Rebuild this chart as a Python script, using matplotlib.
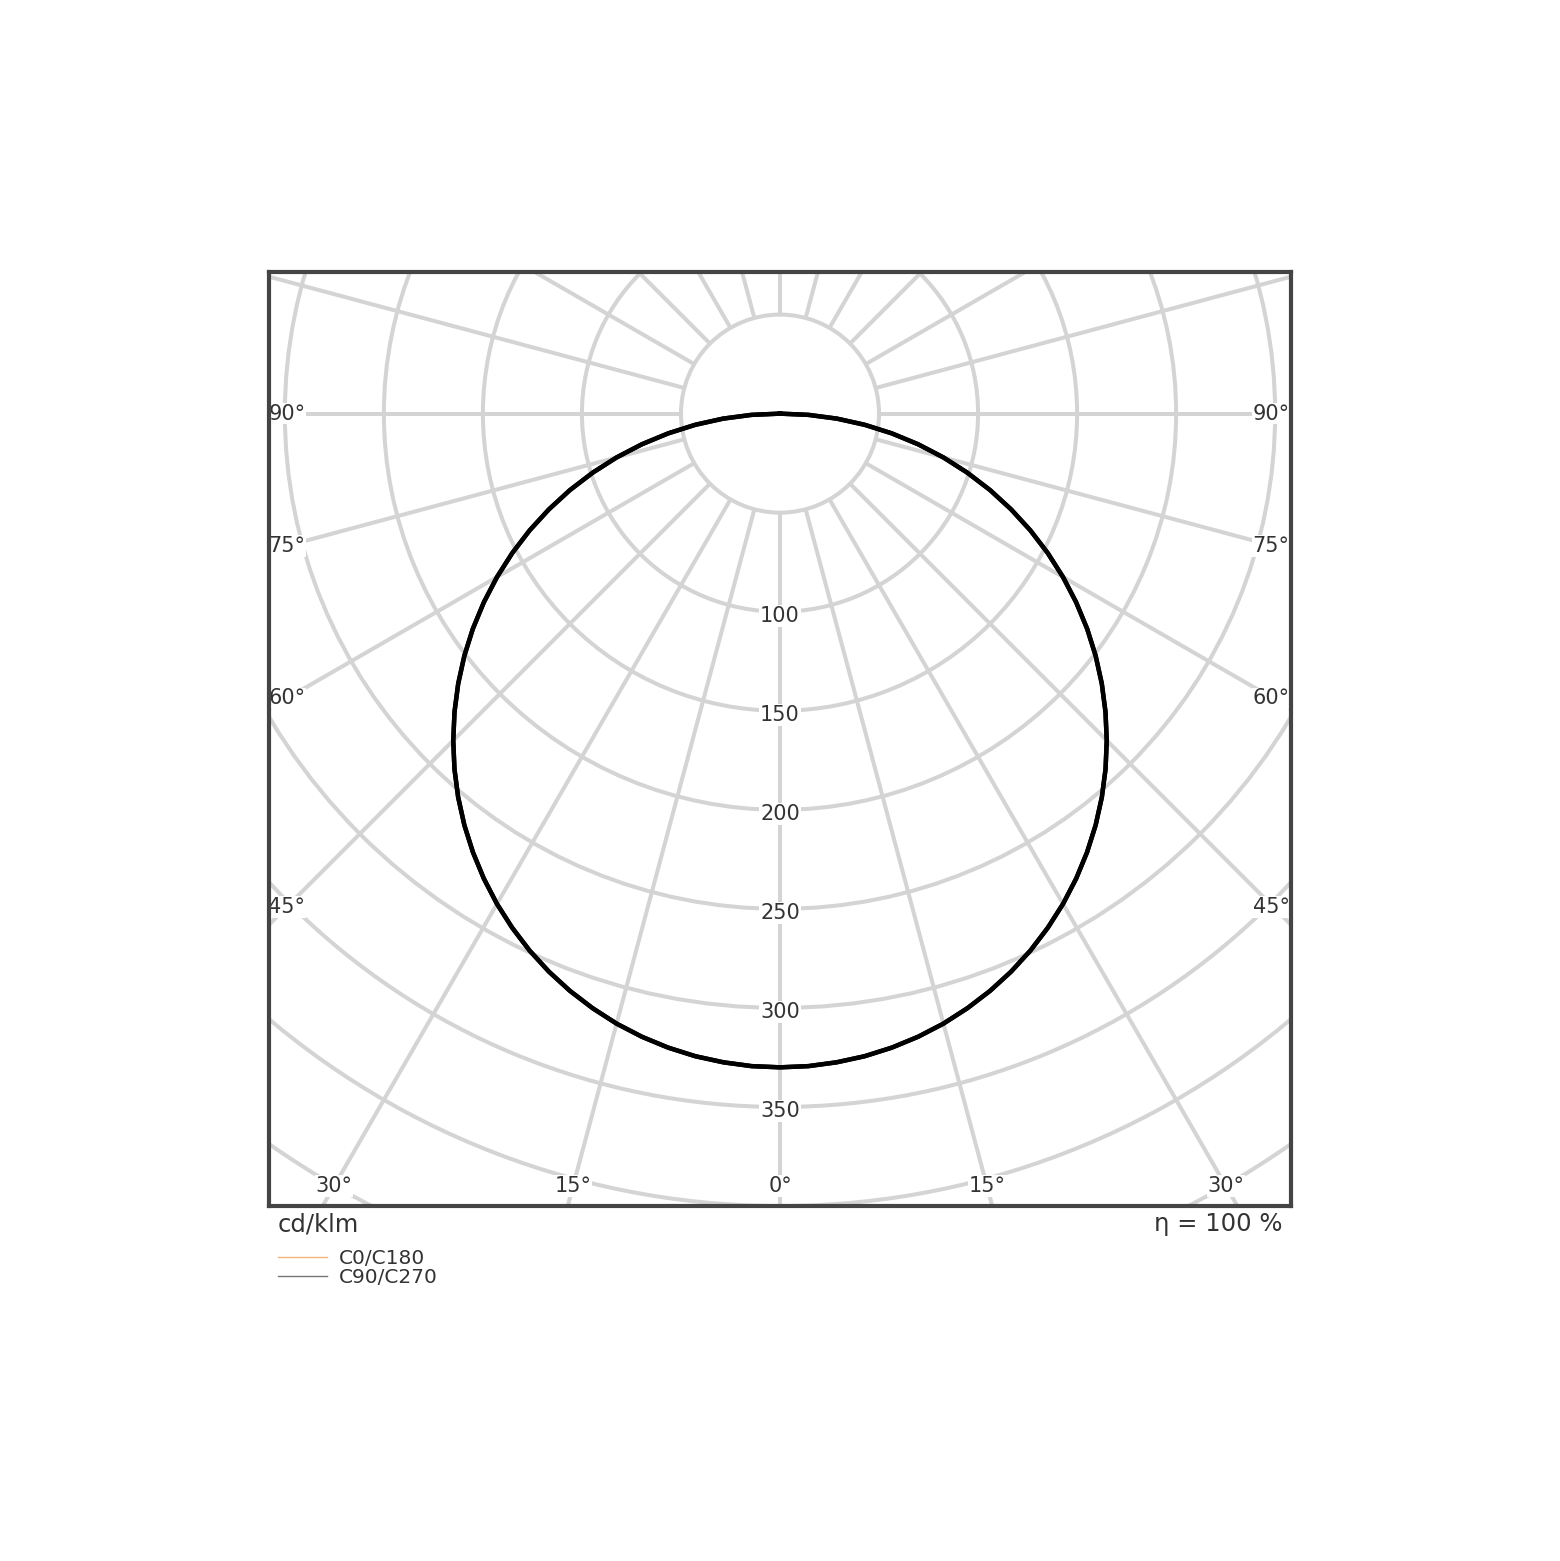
import numpy as np
import matplotlib.pyplot as plt
from matplotlib.patches import Circle
from matplotlib.lines import Line2D

# luminous intensity (cd/klm) against gamma angle
gamma = [0, 2.5, 5, 7.5, 10, 12.5, 15, 17.5, 20, 22.5, 25, 27.5, 30, 32.5, 35, 37.5,
         40, 42.5, 45, 47.5, 50, 52.5, 55, 57.5, 60, 62.5, 65, 67.5, 70, 72.5, 75,
         77.5, 80, 82.5, 85, 87.5, 90]
c0_c180 = [330, 329.7, 328.7, 327.2, 325.0, 322.2, 318.8, 314.7, 310.1, 304.9, 299.1,
           292.7, 285.8, 278.3, 270.3, 261.8, 252.8, 243.3, 233.3, 222.9, 212.1, 200.9,
           189.3, 177.3, 165.0, 152.4, 139.5, 126.3, 112.9, 99.2, 85.4, 71.4, 57.3,
           43.1, 28.8, 14.4, 0]
c90_c270 = [330, 329.7, 328.7, 327.2, 325.0, 322.2, 318.8, 314.7, 310.1, 304.9, 299.1,
            292.7, 285.8, 278.3, 270.3, 261.8, 252.8, 243.3, 233.3, 222.9, 212.1, 200.9,
            189.3, 177.3, 165.0, 152.4, 139.5, 126.3, 112.9, 99.2, 85.4, 71.4, 57.3,
            43.1, 28.8, 14.4, 0]

ring_values = [50, 100, 150, 200, 250, 300, 350, 400, 450, 500]
ring_labels = [100, 150, 200, 250, 300, 350]
spoke_angles = list(range(0, 360, 15))
side_labels = [45, 60, 75, 90]
bottom_labels = [0, 15, 30]

legend_names = ["C0/C180", "C90/C270"]
legend_colors = ["#f7b57a", "#777777"]

grid_col = "#d4d4d4"
text_col = "#333333"

fig = plt.figure(figsize=(15.6, 15.61), dpi=100)
ax = fig.add_axes([269 / 1560, 355 / 1561, 1022 / 1560, 934 / 1561])
xmin, xmax = -258, 258
ymin, ymax = -400, 71.5
ax.set_xlim(xmin, xmax)
ax.set_ylim(ymin, ymax)
ax.set_xticks([])
ax.set_yticks([])
for s in ax.spines.values():
    s.set_color("#444444")
    s.set_linewidth(3)

# rings
for r in ring_values:
    ax.add_patch(Circle((0, 0), r, fill=False, ec=grid_col, lw=2.9, zorder=1))

# spokes (start at the inner ring)
for a in spoke_angles:
    t = np.radians(a)
    ax.plot([50 * np.sin(t), 700 * np.sin(t)], [-50 * np.cos(t), -700 * np.cos(t)],
            color=grid_col, lw=2.9, zorder=1, solid_capstyle="butt")

# curves, both half planes
g = np.radians(gamma)
for vals in [c0_c180, c90_c270]:
    v = np.array(vals, dtype=float)
    xs = np.concatenate([-(v * np.sin(g))[::-1], v * np.sin(g)])
    ys = np.concatenate([-(v * np.cos(g))[::-1], -v * np.cos(g)])
    ax.plot(xs, ys, color="black", lw=3.2, zorder=3)

box = dict(facecolor="white", edgecolor="none", pad=0.6)

for r in ring_labels:
    ax.text(0, -r - 2, str(r), ha="center", va="center", fontsize=15,
            color=text_col, bbox=box, zorder=2)

xin = 249
for a in side_labels:
    y = -xin / np.tan(np.radians(a)) if a != 90 else 0
    ax.text(-xin, y, f"{a}°", ha="center", va="center", fontsize=15,
            color=text_col, bbox=box, zorder=2)
    ax.text(xin - 1, y, f"{a}°", ha="center", va="center", fontsize=15,
            color=text_col, bbox=box, zorder=2)

yin = 390
for a in bottom_labels:
    x = yin * np.tan(np.radians(a))
    ax.text(x, -yin, f"{a}°", ha="center", va="center", fontsize=15,
            color=text_col, bbox=box, zorder=2)
    if a != 0:
        ax.text(-x, -yin, f"{a}°", ha="center", va="center", fontsize=15,
                color=text_col, bbox=box, zorder=2)

fig.text(278 / 1560, 1 - 1224 / 1561, "cd/klm", ha="left", va="center",
         fontsize=17.5, color=text_col)
fig.text(1282 / 1560, 1 - 1224 / 1561, "η = 100 %", ha="right", va="center",
         fontsize=17.5, color=text_col)

handles = [Line2D([0], [0], color=c, lw=1.0) for c in legend_colors]
fig.legend(handles, legend_names, loc="upper left",
           bbox_to_anchor=(278 / 1560, 1 - 1249 / 1561), frameon=False,
           fontsize=14.5, borderpad=0, borderaxespad=0, handlelength=2.45,
           handletextpad=0.55, labelspacing=0.02, labelcolor=text_col)

fig.savefig("out.png", dpi=100, facecolor="white")
